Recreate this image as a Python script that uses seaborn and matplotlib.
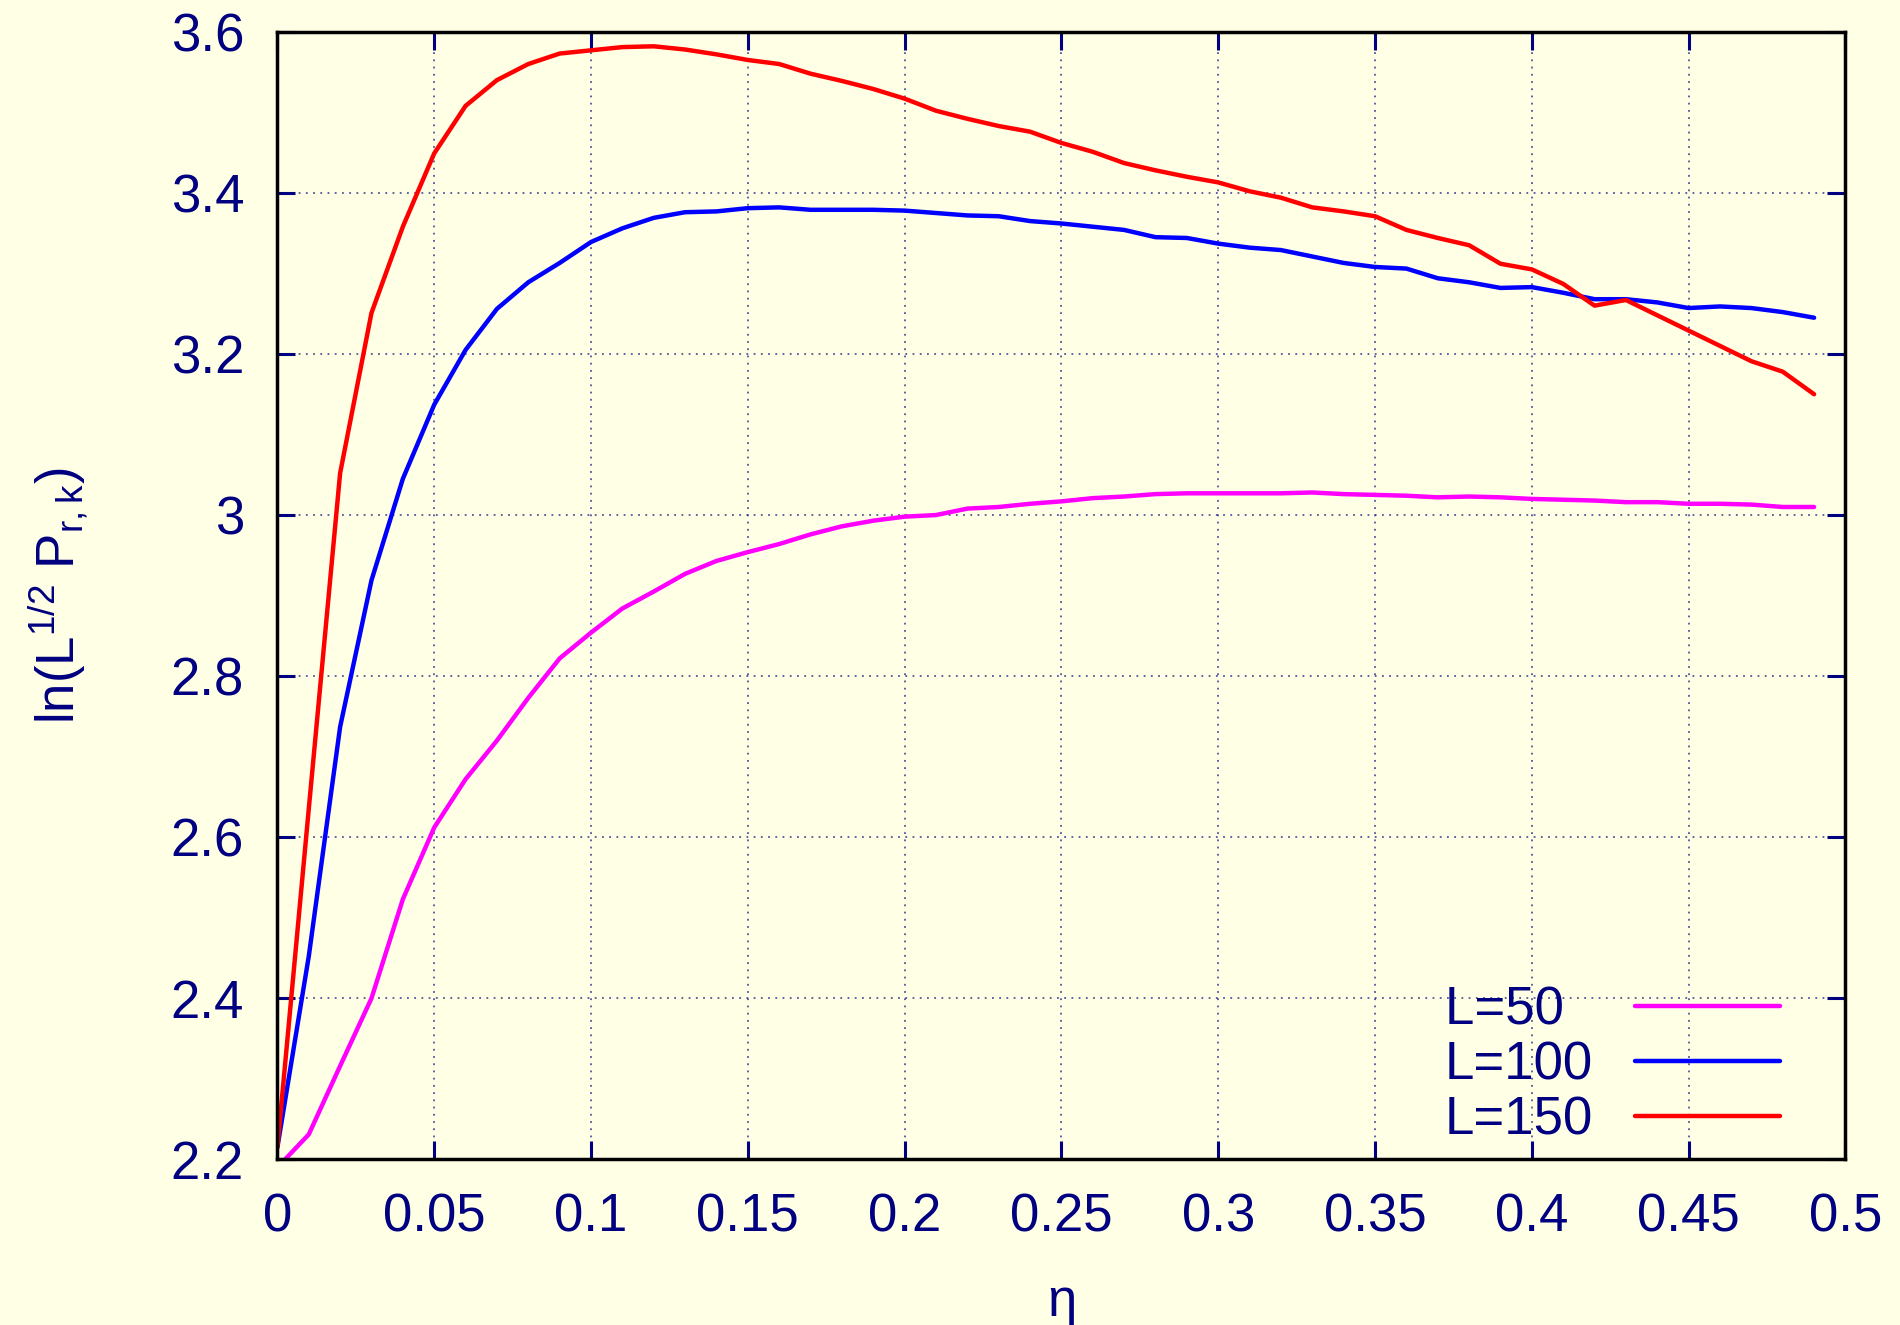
import numpy as np
import pandas as pd
import matplotlib
matplotlib.use('Agg')
import matplotlib.pyplot as plt
import seaborn as sns
from matplotlib.lines import Line2D

# eta grid: 0.00 .. 0.49 in steps of 0.01
eta = [round(0.01 * i, 2) for i in range(50)]

# L=50 (magenta)
L50 = [2.19, 2.231, 2.316, 2.400, 2.523, 2.612, 2.672, 2.720, 2.773, 2.822,
       2.854, 2.884, 2.905, 2.927, 2.943, 2.954, 2.964, 2.976, 2.986, 2.993,
       2.998, 3.000, 3.008, 3.010, 3.014, 3.017, 3.021, 3.023, 3.026, 3.027,
       3.027, 3.027, 3.027, 3.028, 3.026, 3.025, 3.024, 3.022, 3.023, 3.022,
       3.020, 3.019, 3.018, 3.016, 3.016, 3.014, 3.014, 3.013, 3.010, 3.010]

# L=100 (blue)
L100 = [2.215, 2.452, 2.737, 2.919, 3.045, 3.137, 3.205, 3.256, 3.289, 3.313,
        3.339, 3.356, 3.369, 3.376, 3.377, 3.381, 3.382, 3.379, 3.379, 3.379,
        3.378, 3.375, 3.372, 3.371, 3.365, 3.362, 3.358, 3.354, 3.345, 3.344,
        3.337, 3.332, 3.329, 3.321, 3.313, 3.308, 3.306, 3.294, 3.289, 3.282,
        3.283, 3.276, 3.268, 3.268, 3.264, 3.257, 3.259, 3.257, 3.252, 3.245]

# L=150 (red)
L150 = [2.215, 2.635, 3.052, 3.251, 3.358, 3.449, 3.508, 3.540, 3.560, 3.573,
        3.577, 3.581, 3.582, 3.578, 3.572, 3.565, 3.560, 3.548, 3.539, 3.529,
        3.517, 3.502, 3.492, 3.483, 3.476, 3.462, 3.451, 3.437, 3.428, 3.420,
        3.413, 3.402, 3.394, 3.382, 3.377, 3.371, 3.354, 3.344, 3.335, 3.312,
        3.305, 3.287, 3.260, 3.267, 3.248, 3.229, 3.210, 3.191, 3.178, 3.150]

labels = ['L=50', 'L=100', 'L=150']
colors = ['#ff00ff', '#0000ff', '#ff0000']

xticks = [0, 0.05, 0.1, 0.15, 0.2, 0.25, 0.3, 0.35, 0.4, 0.45, 0.5]
xticklabels = ['0', '0.05', '0.1', '0.15', '0.2', '0.25', '0.3', '0.35', '0.4', '0.45', '0.5']
yticks = [2.2, 2.4, 2.6, 2.8, 3.0, 3.2, 3.4, 3.6]
yticklabels = ['2.2', '2.4', '2.6', '2.8', '3', '3.2', '3.4', '3.6']

bg = '#ffffe5'
navy = '#000080'
fs = 38

sns.set_theme(style='ticks')
plt.rcParams['font.family'] = ['Liberation Sans', 'DejaVu Sans']
plt.rcParams['mathtext.fontset'] = 'custom'
plt.rcParams['mathtext.rm'] = 'Liberation Sans'
plt.rcParams['mathtext.it'] = 'Liberation Sans'

df = pd.DataFrame({'eta': eta * 3,
                   'val': L50 + L100 + L150,
                   'L': [labels[0]] * 50 + [labels[1]] * 50 + [labels[2]] * 50})

fig = plt.figure(figsize=(19, 13.25), dpi=100, facecolor=bg)
ax = fig.add_axes([0.146, 0.125, 0.8253, 0.851])
ax.set_facecolor(bg)

sns.lineplot(data=df, x='eta', y='val', hue='L', hue_order=labels,
             palette=dict(zip(labels, colors)), linewidth=3.2, ax=ax, legend=False)

ax.set_xlim(0, 0.5)
ax.set_ylim(2.2, 3.6)
ax.set_xticks(xticks)
ax.set_xticklabels(xticklabels)
ax.set_yticks(yticks)
ax.set_yticklabels(yticklabels)

ax.tick_params(axis='both', direction='in', length=13, width=2.2, color=navy,
               labelcolor=navy, labelsize=fs, top=True, right=True)
ax.tick_params(axis='x', pad=24)
ax.tick_params(axis='y', pad=24)
for sp in ax.spines.values():
    sp.set_linewidth(2.5)
    sp.set_color('black')

ax.grid(True, color='#2a2a8a', linestyle=(0, (1, 3)), linewidth=1.3, alpha=0.8)

ax.set_xlabel(r'$\eta$', fontsize=fs, color=navy, labelpad=26)
ax.set_ylabel(r'ln(L$^{1/2}$ P$_{r,k}$)', fontsize=fs, color=navy, labelpad=58)

# pad shorter labels so text stays left aligned (digits are two spaces wide)
width = max(len(s) for s in labels)
leg_labels = [s + '  ' * (width - len(s)) for s in labels]
handles = [Line2D([], [], color=c, linewidth=3.2) for c in colors]
leg = ax.legend(handles, leg_labels, loc='lower right', frameon=False, markerfirst=False,
                fontsize=fs, handlelength=2.75, handletextpad=0.8, labelspacing=0.09,
                borderaxespad=0, bbox_to_anchor=(0.972, -0.006))
for t in leg.get_texts():
    t.set_color(navy)

fig.savefig('out.png', dpi=100, facecolor=bg)
